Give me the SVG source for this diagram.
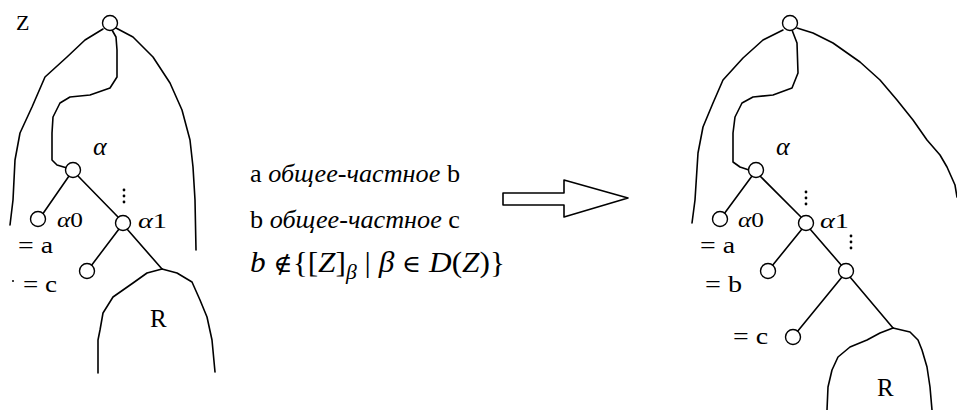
<svg xmlns="http://www.w3.org/2000/svg" width="957" height="410" viewBox="0 0 957 410">
<style>
.ln{fill:none;stroke:#000;stroke-width:1.6;stroke-linejoin:round;stroke-linecap:round}
.nd{fill:#fff;stroke:#000;stroke-width:1.4}
.t{font-family:"Liberation Serif","DejaVu Serif",serif;fill:#000}
.m{font-family:"DejaVu Serif","Liberation Serif",serif;font-weight:normal}
.i{font-style:italic}
.lab{font-size:24px}
.al{font-size:22px}
.dot{fill:#000}
</style>
<rect width="957" height="410" fill="#fff"/>
<g id="connectors">
  <!-- left diagram -->
  <path class="ln" d="M103,29 L85,40 L67,57 L45,77 L32,107 L20,133 L15,160 L13,200 L10,225"/>
  <path class="ln" d="M116,28 L133,37 L153,57 L170,83 L182,110 L190,140 L193,167 L195,200 L196,250"/>
  <path class="ln" d="M112,30 L116,37 L117,50 L117,77 L110,88 L90,95 L70,97 L60,103 L53,117 L52,133 L52,160 L57,165 L67,168"/>
  <path class="ln" d="M69,176 L42,215"/>
  <path class="ln" d="M78,176 L118,217"/>
  <path class="ln" d="M119,229 L91,266"/>
  <path class="ln" d="M127,229 L162,269"/>
  <path class="ln" d="M162,269 L147,273 L133,283 L113,297 L103,313 L100,330 L98,340 L98,373"/>
  <path class="ln" d="M162,269 L177,273 L192,282 L200,300 L207,317 L212,340 L215,372"/>
  <!-- right diagram -->
  <path class="ln" d="M783,30 L763,40 L743,58 L723,80 L713,103 L703,127 L698,153 L695,200 L692,223"/>
  <path class="ln" d="M797,28 L813,33 L833,43 L860,62 L880,80 L897,100 L913,120 L927,140 L940,155 L947,167 L955,185 L957,197"/>
  <path class="ln" d="M792,30 L797,43 L798,73 L792,88 L773,95 L753,97 L742,103 L735,117 L733,133 L733,162 L740,167 L749,170"/>
  <path class="ln" d="M752,176 L724,214"/>
  <path class="ln" d="M760,176 L801,217"/>
  <path class="ln" d="M802,229 L772,266"/>
  <path class="ln" d="M810,229 L842,266"/>
  <path class="ln" d="M842,277 L797,332"/>
  <path class="ln" d="M850,277 L893,328"/>
  <path class="ln" d="M893,328 L880,333 L867,340 L850,347 L838,357 L832,370 L828,387 L827,410"/>
  <path class="ln" d="M893,328 L910,332 L918,340 L922,350 L927,367 L930,387 L932,410"/>
  <!-- big arrow -->
  <path class="ln" d="M503,193 L564,193 L564,180 L628,198 L564,217 L564,205 L503,205 Z"/>
</g>
<g id="left-root"><circle class="nd" cx="110" cy="23" r="7.5"/><text class="t" x="16" y="30" font-size="22">Z</text></g>
<g id="left-alpha"><circle class="nd" cx="73" cy="170" r="7.5"/><text class="t i" x="93" y="155" font-size="26">α</text></g>
<g id="left-alpha0"><circle class="nd" cx="38" cy="219" r="7.5"/><text class="t al" x="57" y="227" textLength="26" lengthAdjust="spacingAndGlyphs"><tspan class="i">α</tspan>0</text></g>
<g id="left-alpha1"><circle class="nd" cx="123" cy="223" r="7.5"/><text class="t al" x="138" y="228" textLength="29" lengthAdjust="spacingAndGlyphs"><tspan class="i">α</tspan>1</text>
  <circle class="dot" cx="124" cy="190" r="1.4"/><circle class="dot" cx="124" cy="196" r="1.4"/><circle class="dot" cx="124" cy="202" r="1.4"/></g>
<g id="left-child"><circle class="nd" cx="87" cy="271" r="7.5"/></g>
<g id="left-R"><text class="t" x="150" y="327" font-size="25">R</text></g>
<g id="left-labels"><text class="t lab" x="18" y="253" textLength="35" lengthAdjust="spacingAndGlyphs">= a</text><text class="t lab" x="23" y="292" textLength="34" lengthAdjust="spacingAndGlyphs">= c</text><circle class="dot" cx="13" cy="281" r="1"/></g>

<g id="right-root"><circle class="nd" cx="790" cy="23" r="7.5"/></g>
<g id="right-alpha"><circle class="nd" cx="756" cy="170" r="7.5"/><text class="t i" x="776" y="155" font-size="26">α</text></g>
<g id="right-alpha0"><circle class="nd" cx="720" cy="219" r="7.5"/><text class="t al" x="738" y="227" textLength="26" lengthAdjust="spacingAndGlyphs"><tspan class="i">α</tspan>0</text></g>
<g id="right-alpha1"><circle class="nd" cx="806" cy="223" r="7.5"/><text class="t al" x="820" y="228" textLength="29" lengthAdjust="spacingAndGlyphs"><tspan class="i">α</tspan>1</text>
  <circle class="dot" cx="806" cy="192" r="1.4"/><circle class="dot" cx="806" cy="198" r="1.4"/><circle class="dot" cx="806" cy="204" r="1.4"/></g>
<g id="right-child1"><circle class="nd" cx="768" cy="271" r="7.5"/></g>
<g id="right-node"><circle class="nd" cx="846" cy="271" r="7.5"/>
  <circle class="dot" cx="851" cy="236" r="1.4"/><circle class="dot" cx="851" cy="242" r="1.4"/><circle class="dot" cx="851" cy="248" r="1.4"/></g>
<g id="right-child2"><circle class="nd" cx="793" cy="337" r="7.5"/></g>
<g id="right-R"><text class="t" x="877" y="396" font-size="25">R</text></g>
<g id="right-labels"><text class="t lab" x="700" y="253" textLength="35" lengthAdjust="spacingAndGlyphs">= a</text><text class="t lab" x="705" y="292" textLength="37" lengthAdjust="spacingAndGlyphs">= b</text><text class="t lab" x="733" y="344" textLength="35" lengthAdjust="spacingAndGlyphs">= c</text></g>

<g id="middle-text">
  <text class="t" x="250" y="182" font-size="25" textLength="210" lengthAdjust="spacingAndGlyphs">a <tspan class="i">общее-частное</tspan> b</text>
  <text class="t" x="250" y="228" font-size="25" textLength="210" lengthAdjust="spacingAndGlyphs">b <tspan class="i">общее-частное</tspan> c</text>
  <text class="t" x="250" y="272" font-size="29" textLength="255" lengthAdjust="spacingAndGlyphs"><tspan class="i">b</tspan> <tspan class="m" font-size="24">∉</tspan>{[<tspan class="i">Z</tspan>]<tspan class="i" font-size="20" dy="7">β</tspan><tspan dy="-7"> | </tspan><tspan class="i">β</tspan> <tspan class="m" font-size="24">∈</tspan> <tspan class="i">D</tspan>(<tspan class="i">Z</tspan>)}</text>
</g>
</svg>
